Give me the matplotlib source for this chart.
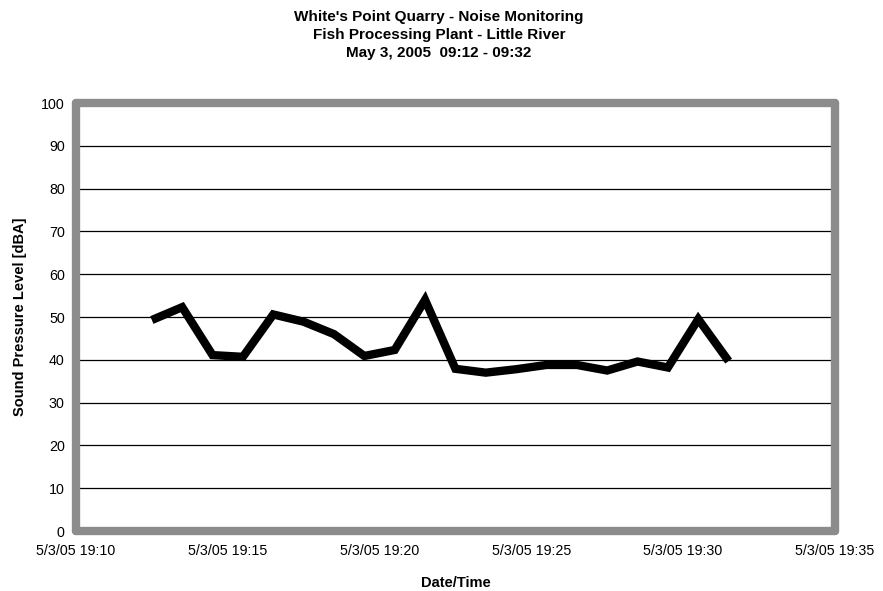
import matplotlib
matplotlib.use("Agg")
import matplotlib.pyplot as plt
import matplotlib.dates as mdates
import pandas as pd

plt.rcParams['font.family'] = ['Liberation Sans', 'DejaVu Sans']

times = pd.date_range("2005-05-03 19:12:30", periods=20, freq="1min")
levels = [49.3, 52.3, 41.1, 40.7, 50.6, 48.9, 46.0, 40.9, 42.3, 54.0,
          37.9, 37.0, 37.8, 38.8, 38.8, 37.5, 39.6, 38.2, 49.5, 39.7]
title_lines = ["White's Point Quarry - Noise Monitoring",
               "Fish Processing Plant - Little River",
               "May 3, 2005  09:12 - 09:32"]
x_ticks = pd.date_range("2005-05-03 19:10", "2005-05-03 19:35", freq="5min")
y_ticks = list(range(0, 101, 10))

fig = plt.figure(figsize=(8.83, 5.91), dpi=100)
ax = fig.add_axes([0.086, 0.1015, 0.8595, 0.7242])

ax.plot(times, levels, color='black', linewidth=6, solid_joinstyle='miter',
        solid_capstyle='butt', zorder=3)

ax.set_xlim(x_ticks[0], x_ticks[-1])
ax.set_ylim(0, 100)
ax.set_xticks(x_ticks)
ax.xaxis.set_major_formatter(mdates.DateFormatter('%-m/%-d/%y %H:%M'))
ax.set_yticks(y_ticks)
ax.yaxis.grid(True, color='black', linewidth=0.9)
ax.tick_params(axis='x', length=0, labelsize=10.3, pad=9)
ax.tick_params(axis='y', length=0, labelsize=10.3, pad=8)
for s in ax.spines.values():
    s.set_color('#8c8c8c')
    s.set_linewidth(6)
    s.set_capstyle('round')

ax.set_xlabel("Date/Time", fontsize=10.5, fontweight='bold', labelpad=13)
ax.set_ylabel("Sound Pressure Level [dBA]", fontsize=10.5, fontweight='bold', labelpad=10)

fig.text(0.497, 0.983, "\n".join(title_lines), ha='center', va='top',
         fontsize=11, fontweight='bold', linespacing=1.38)

fig.savefig("out.png", dpi=100)
